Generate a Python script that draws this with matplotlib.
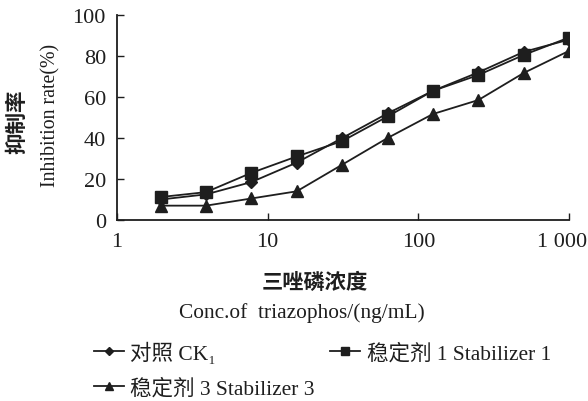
import numpy as np
import matplotlib.pyplot as plt
from matplotlib.ticker import FixedLocator, NullLocator
from matplotlib.transforms import ScaledTranslation

# 数据
conc = [1.95, 3.9, 7.8, 15.6, 31.25, 62.5, 125, 250, 500, 1000]
ck1 = [10, 12.5, 18.5, 28, 40, 52, 63, 72, 82, 88]
stab1 = [11.2, 13.6, 23, 31, 38.5, 50.5, 63, 70.7, 80.5, 89]
stab3 = [7, 7, 10.5, 14, 27, 40, 51.7, 58.5, 71.7, 82.5]

xticks = [1, 10, 100, 1000]
xtick_labels = ["1", "10", "100", "1 000"]
yticks = [0, 20, 40, 60, 80, 100]

fam = ["Liberation Serif", "Noto Sans CJK SC", "DejaVu Sans"]
plt.rcParams["font.family"] = fam
plt.rcParams["font.size"] = 12

color = "#1e1e1e"

fig = plt.figure(figsize=(5.88, 4.02), dpi=100)
ax = fig.add_axes([117 / 588, 1 - 221 / 402, (569 - 117) / 588, (221 - 16) / 402])

h_ck, = ax.plot(conc, ck1, "-", marker="D", color=color, lw=1.3, ms=6.5)
h_s1, = ax.plot(conc, stab1, "-", marker="s", color=color, lw=1.3, ms=8)
h_s3, = ax.plot(conc, stab3, "-", marker="^", color=color, lw=1.3, ms=8.5)

ax.set_xscale("log")
ax.set_xlim(1, 1000)
ax.set_ylim(0, 100)
ax.xaxis.set_major_locator(FixedLocator(xticks))
ax.xaxis.set_minor_locator(NullLocator())
ax.set_xticklabels(xtick_labels)
ax.set_yticks(yticks)
ax.tick_params(axis="both", direction="in", length=5, width=1, colors=color,
               labelsize=16)
ax.tick_params(axis="x", pad=9)
ax.tick_params(axis="y", pad=8)
for s in ["top", "right"]:
    ax.spines[s].set_visible(False)
for s in ["left", "bottom"]:
    ax.spines[s].set_color(color)
    ax.spines[s].set_linewidth(1.3)

# 最后一个刻度标签左移，避免被裁掉
last = ax.get_xticklabels()[-1]
last.set_transform(last.get_transform() + ScaledTranslation(-7 / 100, 0, fig.dpi_scale_trans))

# 坐标轴标题
fig.text(17 / 588, 1 - 122 / 402, "抑制率", rotation=90, ha="center", va="center",
         fontsize=15.5, fontweight="bold", family=["Noto Sans CJK SC"], color=color)
fig.text(51 / 588, 1 - 115 / 402, "Inhibition rate(%)", rotation=90, ha="center",
         va="center", fontsize=14.3, color=color)
fig.text(315 / 588, 1 - 282 / 402, "三唑磷浓度", ha="center", va="center",
         fontsize=15.3, fontweight="bold", family=["Noto Sans CJK SC"], color=color)
fig.text(302 / 588, 1 - 313 / 402, "Conc.of  triazophos/(ng/mL)", ha="center",
         va="center", fontsize=15.4, color=color)

leg = fig.legend([h_ck, h_s3, h_s1],
                 ["对照 CK\u2081", "稳定剂 3 Stabilizer 3", "稳定剂 1 Stabilizer 1"],
                 loc="upper left", bbox_to_anchor=(83 / 588, 1 - 332 / 402),
                 ncol=2, frameon=False, fontsize=15.5, handlelength=1.4,
                 handletextpad=0.3, columnspacing=0.7, labelspacing=0.67,
                 borderpad=0, markerscale=0.7)
for t in leg.get_texts():
    t.set_color(color)

fig.savefig("out.png", dpi=100)
